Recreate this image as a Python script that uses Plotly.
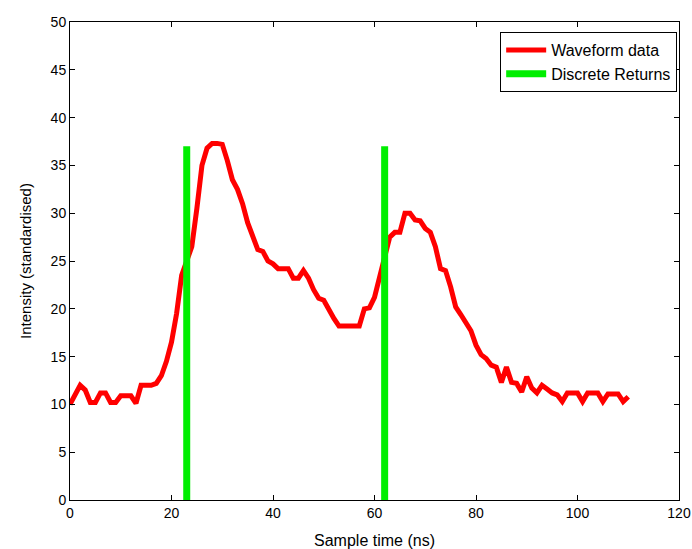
import plotly.graph_objects as go

# Waveform samples (1 ns spacing)
sample_time = list(range(0, 111))
intensity = [
    10, 11, 12, 11.5, 10.2, 10.2, 11.2, 11.2, 10.2, 10.2,
    10.9, 10.9, 10.9, 10.1, 12, 12, 12, 12.2, 13, 14.5,
    16.5, 19.5, 23.5, 25, 26.5, 30.5, 35, 36.8, 37.3, 37.3,
    37.2, 35.5, 33.5, 32.5, 31, 29, 27.5, 26.2, 26, 25,
    24.7, 24.2, 24.2, 24.2, 23.2, 23.2, 24, 23.2, 22, 21.1,
    20.9, 19.9, 19, 18.2, 18.2, 18.2, 18.2, 18.2, 20, 20.1,
    21.2, 23.5, 25.4, 27.5, 28, 28, 30, 30, 29.3, 29.2,
    28.4, 28, 26.5, 24.2, 24, 22.3, 20.2, 19.4, 18.6, 17.7,
    16.2, 15.2, 14.8, 14.1, 13.9, 12.3, 13.9, 12.3, 12.2, 11.3,
    12.9, 11.7, 11.2, 12, 11.6, 11.2, 11, 10.3, 11.2, 11.2,
    11.2, 10.3, 11.2, 11.2, 11.2, 10.3, 11.1, 11.1, 11.1, 10.3,
    10.8,
]

# Discrete returns
return_times = [23, 62]
return_heights = [37, 37]

x_ticks = [0, 20, 40, 60, 80, 100, 120]
y_ticks = [0, 5, 10, 15, 20, 25, 30, 35, 40, 45, 50]

rx, ry = [], []
for t, h in zip(return_times, return_heights):
    rx += [t, t, None]
    ry += [0, h, None]

fig = go.Figure()
fig.add_trace(go.Scatter(
    x=sample_time, y=intensity, mode="lines", name="Waveform data",
    line=dict(color="#ff0000", width=5),
))
fig.add_trace(go.Scatter(
    x=rx, y=ry, mode="lines", name="Discrete Returns",
    line=dict(color="#00ee00", width=7),
))

axis_common = dict(
    showgrid=False, zeroline=False, showline=True, linecolor="black",
    linewidth=1, mirror="allticks", ticks="inside", ticklen=5,
    tickcolor="black", tickfont=dict(size=14, color="black"),
    automargin=False,
)

fig.update_layout(
    width=692, height=549,
    margin=dict(l=70, r=13, t=22, b=49),
    paper_bgcolor="white", plot_bgcolor="white",
    font=dict(family="Liberation Sans, Arial, sans-serif", size=14, color="black"),
    xaxis=dict(range=[0, 120], tickvals=x_ticks,
               title=dict(text="Sample time (ns)", font=dict(size=16)),
               **axis_common),
    yaxis=dict(range=[0, 50], tickvals=y_ticks,
               title=dict(text="Intensity (standardised)", font=dict(size=15)),
               **axis_common),
    legend=dict(x=0.997, y=0.979, xanchor="right", yanchor="top",
                bgcolor="white", bordercolor="black", borderwidth=1,
                font=dict(size=16), tracegroupgap=2, itemwidth=40),
    showlegend=True,
)

fig.write_html("out.html",
               config={"displayModeBar": False},
               post_script="document.body.style.margin='0';")
